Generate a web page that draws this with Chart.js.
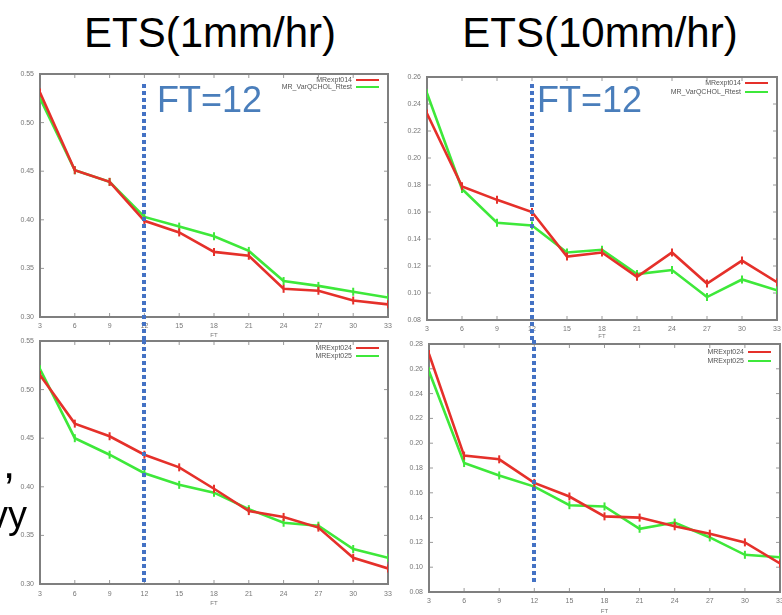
<!DOCTYPE html>
<html><head><meta charset="utf-8">
<script src="https://cdn.jsdelivr.net/npm/chart.js@4.4.0/dist/chart.umd.min.js"></script>
<style>
html,body{margin:0;padding:0;background:#fff;width:782px;height:615px;overflow:hidden;font-family:"Liberation Sans",Arial,sans-serif;}
.box{position:absolute;}
.box canvas{display:block;}
.title{position:absolute;font-size:42px;line-height:42px;color:#000;white-space:nowrap;transform:translateX(-50%);}
.ft{position:absolute;font-size:36px;line-height:36px;color:#4a7ebb;white-space:nowrap;}
.side{position:absolute;font-size:38px;line-height:38px;color:#000;white-space:nowrap;}
</style></head><body>
<div class="title" style="left:210px;top:12px;">ETS(1mm/hr)</div>
<div class="title" style="left:600px;top:12px;">ETS(10mm/hr)</div>

<div class="box" id="bTL" style="left:0;top:62px;width:400px;height:278px;"><canvas id="cTL"></canvas></div>
<div class="box" id="bTR" style="left:390px;top:62px;width:400px;height:278px;"><canvas id="cTR"></canvas></div>
<div class="box" id="bBL" style="left:0;top:330px;width:400px;height:285px;"><canvas id="cBL"></canvas></div>
<div class="box" id="bBR" style="left:390px;top:330px;width:400px;height:285px;"><canvas id="cBR"></canvas></div>

<div class="ft" style="left:157px;top:82px;">FT=12</div>
<div class="ft" style="left:537px;top:82px;">FT=12</div>
<div class="side" style="left:3px;top:444px;font-size:44px;">,</div>
<div class="side" style="left:-11px;top:496px;">vy</div>

<script>
// ---- data ----
const forecastHours = [3, 6, 9, 12, 15, 18, 21, 24, 27, 30, 33];
const xTickStep = 3;
const markerFT = 12;

const topLegendLabels = ["MRexpt014", "MR_VarQCHOL_Rtest"];
const bottomLegendLabels = ["MRExpt024", "MRExpt025"];

const ets1TopRed    = [0.531, 0.451, 0.439, 0.399, 0.387, 0.367, 0.363, 0.329, 0.327, 0.317, 0.313];
const ets1TopGreen  = [0.525, 0.451, 0.439, 0.403, 0.393, 0.383, 0.368, 0.337, 0.332, 0.326, 0.320];
const ets1BotRed    = [0.515, 0.465, 0.452, 0.433, 0.420, 0.398, 0.375, 0.369, 0.358, 0.327, 0.316];
const ets1BotGreen  = [0.521, 0.450, 0.433, 0.414, 0.402, 0.394, 0.377, 0.363, 0.360, 0.336, 0.327];
const ets10TopRed   = [0.233, 0.179, 0.169, 0.160, 0.127, 0.130, 0.112, 0.130, 0.107, 0.124, 0.108];
const ets10TopGreen = [0.248, 0.177, 0.152, 0.150, 0.130, 0.132, 0.114, 0.117, 0.097, 0.110, 0.102];
const ets10BotRed   = [0.272, 0.190, 0.187, 0.168, 0.157, 0.141, 0.140, 0.133, 0.127, 0.120, 0.103];
const ets10BotGreen = [0.258, 0.184, 0.174, 0.165, 0.150, 0.149, 0.131, 0.136, 0.124, 0.110, 0.108];

const ets1YRange  = [0.30, 0.55, 0.05];
const ets10TopYRange = [0.08, 0.26, 0.02];
const ets10BotYRange = [0.08, 0.28, 0.02];

// ---- styles ----
const RED = '#e5302a';
const GREEN = '#3ee83a';
const FTBLUE = '#4472c4';
const FONT = '"Liberation Sans", Arial, sans-serif';

function pts(vals){ return forecastHours.map((h,i)=>({x:h, y:vals[i]})); }

const framePlugin = {
  id:'frame',
  beforeDatasetsDraw(chart){
    const {ctx, chartArea:a, scales:{x,y}} = chart;
    ctx.save();
    ctx.strokeStyle = '#9a9a9a'; ctx.lineWidth = 1;
    ctx.beginPath();
    x.ticks.forEach(t=>{const p=x.getPixelForValue(t.value); ctx.moveTo(p,a.top); ctx.lineTo(p,a.top+4); ctx.moveTo(p,a.bottom); ctx.lineTo(p,a.bottom-4);});
    y.ticks.forEach(t=>{const p=y.getPixelForValue(t.value); ctx.moveTo(a.left,p); ctx.lineTo(a.left+4,p); ctx.moveTo(a.right,p); ctx.lineTo(a.right-4,p);});
    ctx.stroke();
    ctx.strokeStyle = '#7f7f7f'; ctx.lineWidth = 2;
    ctx.strokeRect(a.left, a.top, a.right-a.left, a.bottom-a.top);
    ctx.restore();
  }
};

function legendPlugin(rows){
  return {
    id:'miniLegend',
    afterDatasetsDraw(chart){
      const {ctx, chartArea:a} = chart;
      ctx.save();
      ctx.font = '7px ' + FONT;
      ctx.textAlign = 'right'; ctx.textBaseline = 'middle';
      chart.data.datasets.forEach((ds,i)=>{
        const yy = a.top + rows[i];
        const x1 = a.right - 9, x0 = x1 - 23;
        ctx.fillStyle = '#555';
        ctx.fillText(ds.label, x0 - 4, yy);
        ctx.strokeStyle = ds.borderColor; ctx.lineWidth = 2;
        ctx.beginPath(); ctx.moveTo(x0, yy); ctx.lineTo(x1, yy); ctx.stroke();
      });
      ctx.restore();
    }
  };
}

function ftLinePlugin(y0, y1){
  return {
    id:'ftLine',
    afterDatasetsDraw(chart){
      const {ctx, scales:{x}} = chart;
      const px = Math.round(x.getPixelForValue(markerFT));
      ctx.save();
      ctx.strokeStyle = FTBLUE; ctx.lineWidth = 4; ctx.setLineDash([4,3]);
      ctx.beginPath(); ctx.moveTo(px, y0); ctx.lineTo(px, y1); ctx.stroke();
      ctx.restore();
    }
  };
}

function makeChart(id, cfg){
  return new Chart(document.getElementById(id), {
    type:'line',
    data:{datasets:[
      {label:cfg.labels[0], data:pts(cfg.red), borderColor:RED, backgroundColor:RED, borderWidth:2.6,
       pointStyle:'line', rotation:90, pointRadius:4, pointBorderWidth:2, pointBorderColor:RED, tension:0},
      {label:cfg.labels[1], data:pts(cfg.green), borderColor:GREEN, backgroundColor:GREEN, borderWidth:2.6,
       pointStyle:'line', rotation:90, pointRadius:4, pointBorderWidth:2, pointBorderColor:GREEN, tension:0}
    ]},
    options:{
      responsive:true, maintainAspectRatio:false, animation:false,
      layout:{padding:{top:cfg.padTop, right:cfg.padRight, left:0, bottom:0}},
      plugins:{legend:{display:false}, tooltip:{enabled:false}},
      scales:{
        x:{type:'linear', min:forecastHours[0], max:forecastHours[forecastHours.length-1],
           grid:{display:false, drawTicks:false}, border:{display:false},
           ticks:{stepSize:xTickStep, padding:cfg.xTickPad, color:'#777', font:{size:7, family:FONT}, maxRotation:0, autoSkip:false},
           title:{display:true, text:'FT', color:'#777', font:{size:6, family:FONT}, padding:{top:0, bottom:cfg.xTitlePad}},
           afterFit(s){ s.height = cfg.xH; }},
        y:{type:'linear', min:cfg.yr[0], max:cfg.yr[1],
           grid:{display:false, drawTicks:false}, border:{display:false},
           ticks:{stepSize:cfg.yr[2], padding:6, color:'#777', font:{size:7, family:FONT}, callback:v=>v.toFixed(2)},
           afterFit(s){ s.width = cfg.yW; }}
      }
    },
    plugins:[framePlugin, legendPlugin(cfg.legendRows), cfg.ft]
  });
}

makeChart('cTL', {labels:topLegendLabels, red:ets1TopRed, green:ets1TopGreen, yr:ets1YRange,
  padTop:12, padRight:12, yW:40, xH:23, xTickPad:5, xTitlePad:1, legendRows:[6,13],
  ft:ftLinePlugin(22, 278)});
makeChart('cTR', {labels:topLegendLabels, red:ets10TopRed, green:ets10TopGreen, yr:ets10TopYRange,
  padTop:15, padRight:13, yW:37, xH:20, xTickPad:5, xTitlePad:0, legendRows:[6,15],
  ft:ftLinePlugin(22, 278)});
makeChart('cBL', {labels:bottomLegendLabels, red:ets1BotRed, green:ets1BotGreen, yr:ets1YRange,
  padTop:11, padRight:12, yW:40, xH:31, xTickPad:6, xTitlePad:8, legendRows:[7,15],
  ft:ftLinePlugin(10, 252)});
makeChart('cBR', {labels:bottomLegendLabels, red:ets10BotRed, green:ets10BotGreen, yr:ets10BotYRange,
  padTop:14, padRight:10, yW:39, xH:23, xTickPad:5, xTitlePad:0, legendRows:[8,17],
  ft:ftLinePlugin(10, 252)});
</script>
</body></html>
